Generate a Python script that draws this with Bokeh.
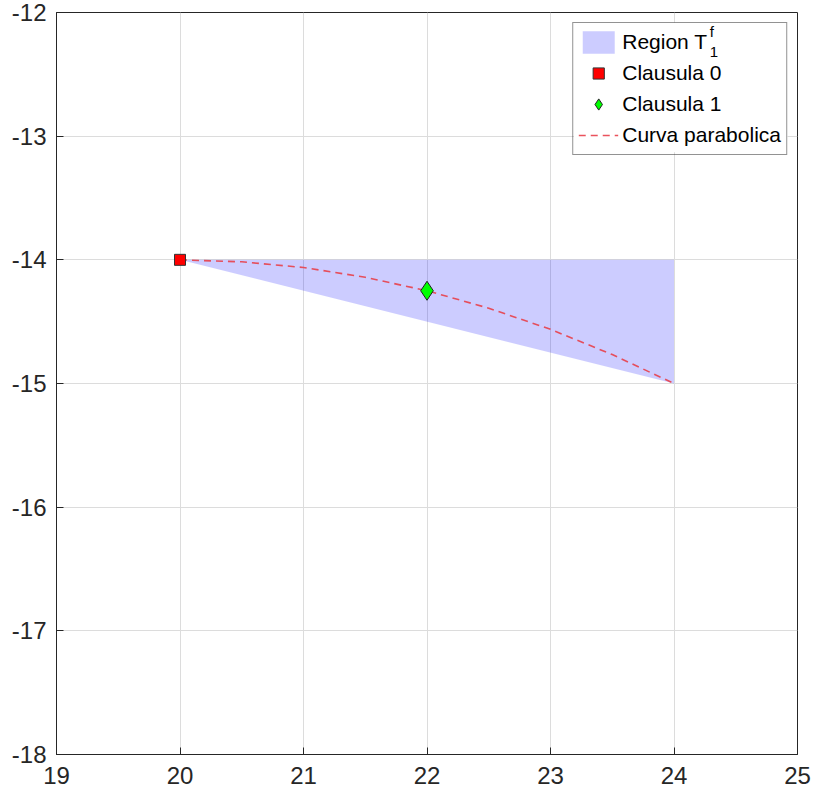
from bokeh.plotting import figure
from bokeh.models import Range1d, Legend, LegendItem, Label, FixedTicker, BoxAnnotation
from bokeh.embed import file_html
from bokeh.resources import INLINE

# Region T_1^f vertices
region_x = [20, 24, 24]
region_y = [-14, -14, -15]
# Clausula 0 / Clausula 1
c0_x = [20]
c0_y = [-14]
c1_x = [22]
c1_y = [-14.25]
# Curva parabolica
curve_x = [20, 20.5, 21, 21.5, 22, 22.5, 23, 23.5, 24]
curve_y = [-14.0, -14.016, -14.062, -14.141, -14.25, -14.391, -14.562, -14.766, -15.0]
x_ticks = [19, 20, 21, 22, 23, 24, 25]
y_ticks = [-18, -17, -16, -15, -14, -13, -12]

FONT = "Liberation Sans"

p = figure(width=813, height=794, output_backend="svg", toolbar_location=None,
           x_range=Range1d(19, 25), y_range=Range1d(-18, -12),
           min_border_left=56, min_border_right=16, min_border_top=12, min_border_bottom=40)
p.outline_line_color = "#262626"
p.outline_line_width = 1
p.background_fill_color = "white"
p.border_fill_color = "white"

for ax in (p.xaxis[0], p.yaxis[0]):
    ax.major_tick_in = 7
    ax.major_tick_out = 0
    ax.minor_tick_in = 0
    ax.minor_tick_out = 0
    ax.axis_line_color = "#262626"
    ax.major_tick_line_color = "#262626"
    ax.major_label_text_font = FONT
    ax.major_label_text_font_size = "24px"
    ax.major_label_text_color = "#262626"
p.xaxis[0].ticker = FixedTicker(ticks=x_ticks)
p.yaxis[0].ticker = FixedTicker(ticks=y_ticks)
p.xaxis[0].major_label_standoff = 12
p.yaxis[0].major_label_standoff = 10
p.xaxis[0].major_label_overrides = {t: str(t) for t in x_ticks}
p.yaxis[0].major_label_overrides = {t: str(t) for t in y_ticks}

p.xgrid.grid_line_color = "#dcdcdc"
p.ygrid.grid_line_color = "#dcdcdc"
p.xgrid.ticker = FixedTicker(ticks=x_ticks)
p.ygrid.ticker = FixedTicker(ticks=y_ticks)

# white backing for the legend, drawn beneath so the super/subscript labels stay visible
p.add_layout(BoxAnnotation(left=23.19, right=24.92, top=-12.08, bottom=-13.13,
                           fill_color="white", fill_alpha=1, line_color=None, level="underlay",
                           propagate_hover=False))

r_patch = p.patch(region_x, region_y, fill_color="blue", fill_alpha=0.2, line_color=None)
r_curve = p.line(curve_x, curve_y, line_color="#e8404a", line_width=1.6, line_dash="7 5", line_alpha=0.9)
r_c0 = p.scatter(c0_x, c0_y, marker="square", size=11, fill_color="red", line_color="#333333", line_width=1)
r_c1 = p.scatter(c1_x, c1_y, marker="diamond", size=19, fill_color="#00ff00", line_color="#222222", line_width=1)

legend = Legend(items=[
    LegendItem(label="Region T", renderers=[r_patch]),
    LegendItem(label="Clausula 0", renderers=[r_c0]),
    LegendItem(label="Clausula 1", renderers=[r_c1]),
    LegendItem(label="Curva parabolica", renderers=[r_curve]),
], location="top_right")
legend.label_text_font = FONT
legend.label_text_font_size = "21px"
legend.label_text_color = "#000000"
legend.glyph_width = 40
legend.glyph_height = 28
legend.label_height = 28
legend.label_standoff = 4
legend.spacing = 3
legend.padding = 5
legend.margin = 10
legend.border_line_color = "#262626"
legend.border_line_width = 1
legend.background_fill_alpha = 0
p.add_layout(legend)

p.add_layout(Label(x=24.29, y=-12.15, text="f", text_font=FONT, text_font_size="15px",
                   text_align="left", text_baseline="middle", text_color="black"))
p.add_layout(Label(x=24.29, y=-12.32, text="1", text_font=FONT, text_font_size="15px",
                   text_align="left", text_baseline="middle", text_color="black"))

open("out.html", "w").write(file_html(p, INLINE))
